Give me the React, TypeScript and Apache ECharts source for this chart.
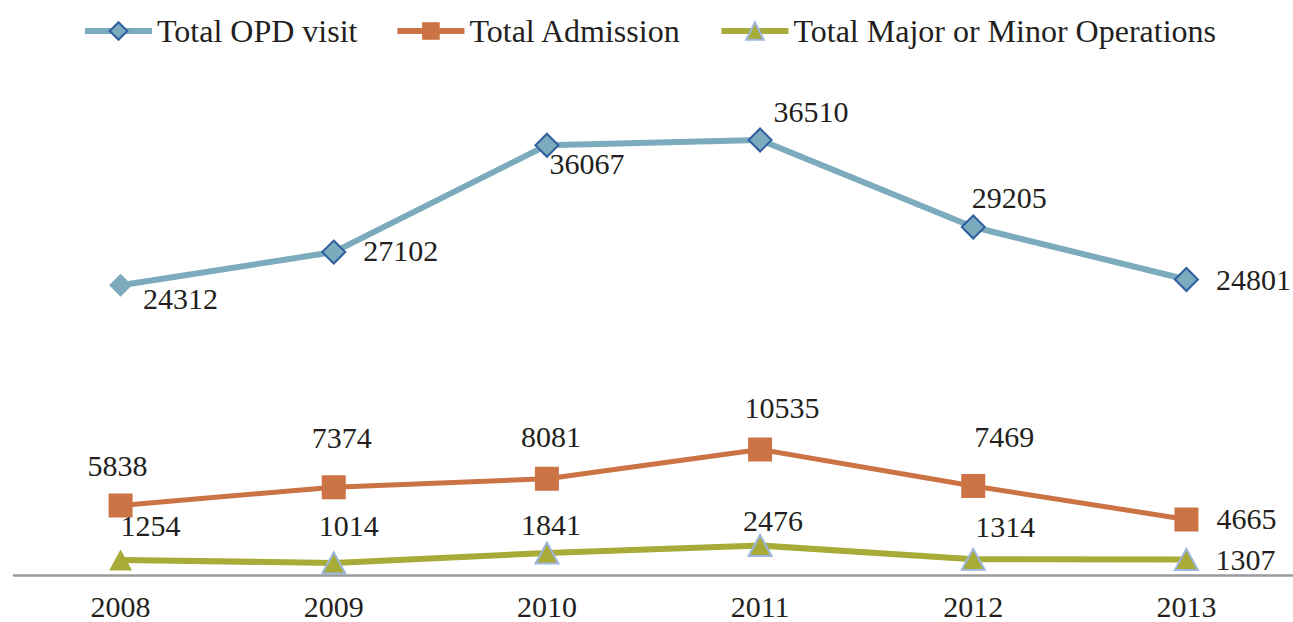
import React, { useEffect, useRef } from "react";
import * as echarts from "echarts";

const years = ["2008", "2009", "2010", "2011", "2012", "2013"];
const opdVisits = [24312, 27102, 36067, 36510, 29205, 24801];
const admissions = [5838, 7374, 8081, 10535, 7469, 4665];
const operations = [1254, 1014, 1841, 2476, 1314, 1307];

const seriesNames = ["Total OPD visit", "Total Admission", "Total Major or Minor Operations"];

// label offsets (styling) relative to each point
const opdLabelOffsets = [[60, 13], [67, -2], [40, 18], [51, -28], [36, -30], [67, 0]];
const admLabelOffsets = [[-3, -40], [8, -50], [4, -42], [22, -42], [31, -50], [60, -1]];
const opLabelOffsets = [[30, -35], [15, -37], [4, -29], [13, -25], [32, -33], [59, 0]];

const FONT = "'Liberation Serif', 'DejaVu Serif', serif";
const TEXT_COLOR = "#231F20";

function buildData(values: number[], offsets: number[][], borderColor: string, firstNoBorder: boolean) {
  return values.map((v, i) => ({
    value: v,
    label: {
      show: true,
      position: "inside",
      offset: offsets[i],
      align: "center",
      verticalAlign: "middle",
    },
    itemStyle: i === 0 && firstNoBorder ? { borderWidth: 0 } : { borderColor, borderWidth: 2 },
  }));
}

export default function App() {
  const ref = useRef<HTMLDivElement>(null);
  useEffect(() => {
    if (!ref.current) return;
    const chart = echarts.init(ref.current, null, { renderer: "svg" });
    const labelStyle = {
      color: TEXT_COLOR,
      fontSize: 30,
      fontFamily: FONT,
    };
    chart.setOption({
      animation: false,
      backgroundColor: "#ffffff",
      legend: {
        left: 77,
        top: 10,
        itemGap: 37,
        itemWidth: 67,
        itemHeight: 22,
        lineStyle: { width: 6 },
        textStyle: { color: TEXT_COLOR, fontSize: 32, fontFamily: FONT, padding: [0, 0, 0, 0] },
        data: seriesNames,
      },
      grid: { left: 14, right: 0, top: 98.4, bottom: 47 },
      xAxis: {
        type: "category",
        data: years,
        boundaryGap: true,
        axisLine: { lineStyle: { color: "#9A9A9C", width: 2.5 } },
        axisTick: { show: false },
        axisLabel: { color: TEXT_COLOR, fontSize: 30, fontFamily: FONT, margin: 16 },
      },
      yAxis: {
        type: "value",
        min: 0,
        max: 40000,
        show: false,
        splitLine: { show: false },
      },
      series: [
        {
          name: seriesNames[0],
          type: "line",
          data: buildData(opdVisits, opdLabelOffsets, "#2F5F9F", true),
          symbol: "diamond",
          symbolSize: 23,
          lineStyle: { color: "#7BABBC", width: 6 },
          itemStyle: { color: "#7BABBC", borderColor: "#2F5F9F", borderWidth: 2 },
          label: { ...labelStyle },
          z: 3,
        },
        {
          name: seriesNames[1],
          type: "line",
          data: buildData(admissions, admLabelOffsets, "#CC7346", false),
          symbol: "rect",
          symbolSize: 22,
          lineStyle: { color: "#CC7346", width: 5 },
          itemStyle: { color: "#CC7346", borderWidth: 0 },
          label: { ...labelStyle },
          z: 3,
        },
        {
          name: seriesNames[2],
          type: "line",
          data: buildData(operations, opLabelOffsets, "#9DB6DB", true),
          symbol: "triangle",
          symbolSize: [23, 21],
          lineStyle: { color: "#A8AB38", width: 6 },
          itemStyle: { color: "#A8AB38", borderColor: "#9DB6DB", borderWidth: 2 },
          label: { ...labelStyle },
          z: 3,
        },
      ],
    });
    return () => chart.dispose();
  }, []);
  return (
    <div
      ref={ref}
      style={{ position: "fixed", left: 0, top: 0, width: 1293, height: 622 }}
    />
  );
}
